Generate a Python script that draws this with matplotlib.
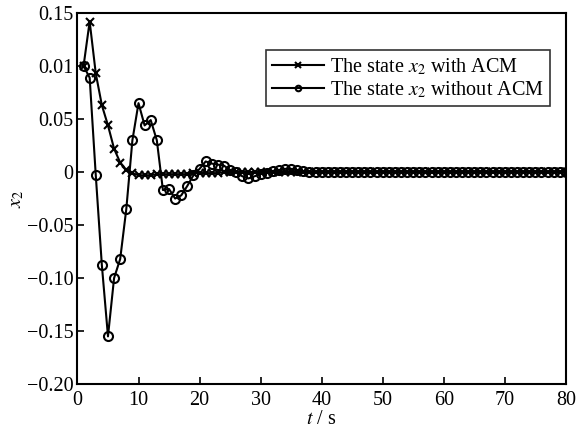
import matplotlib
matplotlib.use('Agg')
import matplotlib.pyplot as plt
import numpy as np

plt.rcParams['font.family'] = ['Liberation Serif', 'DejaVu Serif']
plt.rcParams['mathtext.fontset'] = 'stix'

t = np.arange(1, 81)

# state x2 with ACM
x2_acm = [0.100, 0.142, 0.093, 0.063, 0.044, 0.022, 0.009, 0.002, -0.001, -0.003,
          -0.003, -0.003, -0.002, -0.002, -0.002, -0.002, -0.002, -0.002, -0.001, -0.001,
          -0.001, -0.001, -0.001, 0.000, 0.000, 0.000, 0.000, 0.000, 0.000, 0.000] + [0.0] * 50

# state x2 without ACM
x2_no = [0.100, 0.089, -0.003, -0.088, -0.155, -0.100, -0.082, -0.035, 0.030, 0.065,
         0.044, 0.049, 0.030, -0.017, -0.016, -0.025, -0.022, -0.013, -0.003, 0.003,
         0.010, 0.008, 0.007, 0.006, 0.002, 0.000, -0.004, -0.006, -0.004, -0.002,
         -0.001, 0.001, 0.002, 0.003, 0.003, 0.002, 0.001, 0.000, 0.000, 0.000] + [0.0] * 40

yticks = [0.15, 0.10, 0.05, 0, -0.05, -0.10, -0.15, -0.20]
ytick_labels = ['0.15', '0.01', '0.05', '0', '\u22120.05', '\u22120.10', '\u22120.15', '\u22120.20']
xticks = [0, 10, 20, 30, 40, 50, 60, 70, 80]

fig = plt.figure(figsize=(5.78, 4.34), dpi=100)
ax = fig.add_axes([0.134, 0.115, 0.845, 0.855])

ax.plot(t, x2_acm, 'k-', marker='x', markersize=6, markeredgewidth=1.5, linewidth=1.5,
        label=r'The state $x_2$ with ACM')
ax.plot(t, x2_no, 'k-', marker='o', markersize=6.5, markerfacecolor='none',
        markeredgewidth=1.5, linewidth=1.5, label=r'The state $x_2$ without ACM')

ax.set_xlim(0, 80)
ax.set_ylim(-0.20, 0.15)
ax.set_xticks(xticks)
ax.set_yticks(yticks)
ax.set_yticklabels(ytick_labels)
ax.tick_params(direction='in', length=5, width=1.2, labelsize=14.5, top=False, right=False)
ax.tick_params(axis='x', pad=5)
ax.tick_params(axis='y', pad=3)
for s in ax.spines.values():
    s.set_linewidth(1.5)

ax.set_xlabel(r'$t$ / s', fontsize=14.5, labelpad=0)
ax.set_ylabel(r'$x_2$', fontsize=14.5, labelpad=0)

leg = ax.legend(loc='upper right', bbox_to_anchor=(0.968, 0.9), fontsize=14.5,
                frameon=True, fancybox=False, edgecolor='k', handlelength=2.6,
                borderpad=0.3, labelspacing=0.12, handletextpad=0.3, borderaxespad=0)
leg.get_frame().set_linewidth(1.2)
for h in leg.legend_handles:
    h.set_markersize(4)

fig.savefig('out.png', dpi=100)
